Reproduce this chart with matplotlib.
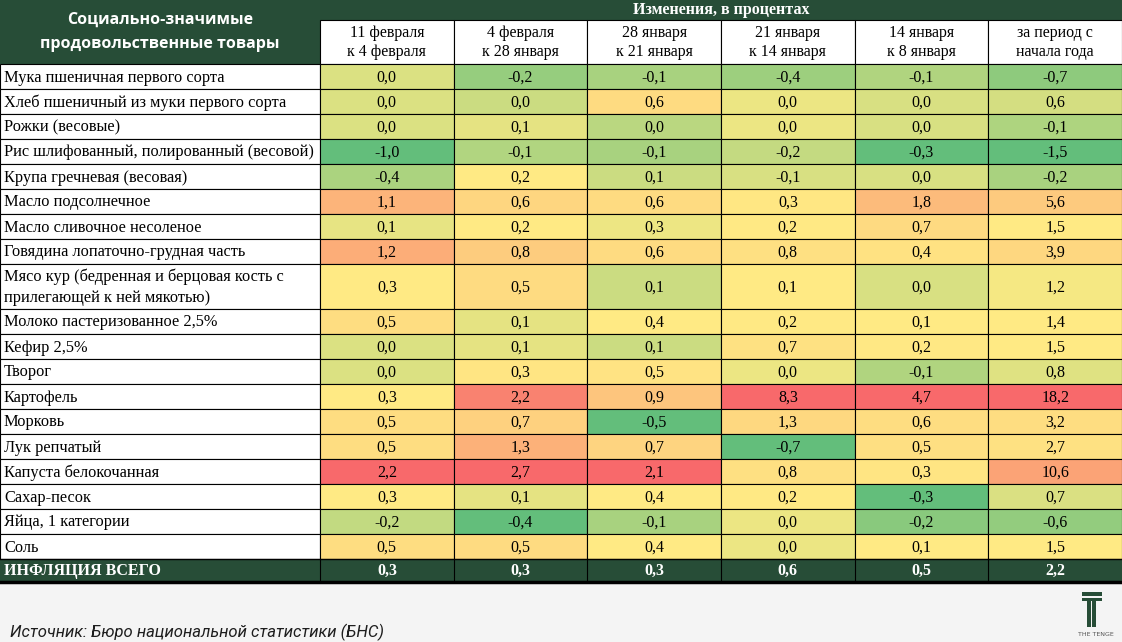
import numpy as np
import matplotlib
matplotlib.use("Agg")
import matplotlib.pyplot as plt
from matplotlib.colors import LinearSegmentedColormap, TwoSlopeNorm
from matplotlib.patches import Rectangle

products = [
    "Мука пшеничная первого сорта",
    "Хлеб пшеничный из муки первого сорта",
    "Рожки (весовые)",
    "Рис шлифованный, полированный (весовой)",
    "Крупа гречневая (весовая)",
    "Масло подсолнечное",
    "Масло сливочное несоленое",
    "Говядина лопаточно-грудная часть",
    "Мясо кур (бедренная и берцовая кость с\nприлегающей к ней мякотью)",
    "Молоко пастеризованное 2,5%",
    "Кефир 2,5%",
    "Творог",
    "Картофель",
    "Морковь",
    "Лук репчатый",
    "Капуста белокочанная",
    "Сахар-песок",
    "Яйца, 1 категории",
    "Соль",
]
periods = [
    "11 февраля\nк 4 февраля",
    "4 февраля\nк 28 января",
    "28 января\nк 21 января",
    "21 января\nк 14 января",
    "14 января\nк 8 января",
    "за период с\nначала года",
]
feb11 = [0.0, 0.0, 0.0, -1.0, -0.4, 1.1, 0.1, 1.2, 0.3, 0.5, 0.0, 0.0, 0.3, 0.5, 0.5, 2.2, 0.3, -0.2, 0.5]
feb04 = [-0.2, 0.0, 0.1, -0.1, 0.2, 0.6, 0.2, 0.8, 0.5, 0.1, 0.1, 0.3, 2.2, 0.7, 1.3, 2.7, 0.1, -0.4, 0.5]
jan28 = [-0.1, 0.6, 0.0, -0.1, 0.1, 0.6, 0.3, 0.6, 0.1, 0.4, 0.1, 0.5, 0.9, -0.5, 0.7, 2.1, 0.4, -0.1, 0.4]
jan21 = [-0.4, 0.0, 0.0, -0.2, -0.1, 0.3, 0.2, 0.8, 0.1, 0.2, 0.7, 0.0, 8.3, 1.3, -0.7, 0.8, 0.2, 0.0, 0.0]
jan14 = [-0.1, 0.0, 0.0, -0.3, 0.0, 1.8, 0.7, 0.4, 0.0, 0.1, 0.2, -0.1, 4.7, 0.6, 0.5, 0.3, -0.3, -0.2, 0.1]
ytd = [-0.7, 0.6, -0.1, -1.5, -0.2, 5.6, 1.5, 3.9, 1.2, 1.4, 1.5, 0.8, 18.2, 3.2, 2.7, 10.6, 0.7, -0.6, 1.5]
inflation = [0.3, 0.3, 0.3, 0.6, 0.5, 2.2]

columns = [feb11, feb04, jan28, jan21, jan14, ytd]

GREEN_DARK = "#274d37"
BG = "#f4f4f4"
cmap = LinearSegmentedColormap.from_list("excel3", ["#63be7b", "#ffeb84", "#f8696b"])

# layout in pixels
W, H = 1122, 642
label_w = 320
col_w = (W - label_w) / len(periods)
top_h = 19
head_h = 64
row_h = 25
tall_h = 45
total_h = 22

fig = plt.figure(figsize=(W / 100, H / 100), dpi=100)
fig.patch.set_facecolor(BG)
ax = fig.add_axes([0, 0, 1, 1])
ax.set_xlim(0, W)
ax.set_ylim(H, 0)
ax.axis("off")

serif = "Liberation Serif"

def fmt(v):
    return f"{v:.1f}".replace(".", ",")

# header
ax.add_patch(Rectangle((0, 0), W, head_h, facecolor=GREEN_DARK, edgecolor="none"))
ax.text(label_w / 2, head_h / 2, "Социально-значимые\nпродовольственные товары",
        ha="center", va="center", color="white", fontsize=11.5, fontweight="bold",
        family="Open Sans", linespacing=1.75)
ax.text(label_w + (W - label_w) / 2, top_h / 2 + 1, "Изменения, в процентах",
        ha="center", va="center", color="white", fontsize=11.5, fontweight="bold", family=serif)
for j, p in enumerate(periods):
    x0 = label_w + j * col_w
    ax.add_patch(Rectangle((x0, top_h + 1), col_w, head_h - top_h - 1,
                           facecolor="white", edgecolor="black", lw=0.8))
    ax.text(x0 + col_w / 2, (top_h + head_h) / 2 + 1, p, ha="center", va="center",
            fontsize=11.5, family=serif, linespacing=1.3)

# body rows
heights = [tall_h if "\n" in name else row_h for name in products]
y = head_h
for i, name in enumerate(products):
    h = heights[i]
    ax.add_patch(Rectangle((0, y), label_w, h, facecolor="white", edgecolor="black", lw=0.8))
    ax.text(4, y + h / 2 + 1, name, ha="left", va="center", fontsize=11.8,
            family=serif, linespacing=1.45)
    for j, vals in enumerate(columns):
        norm = TwoSlopeNorm(vmin=min(vals), vcenter=float(np.median(vals)), vmax=max(vals))
        x0 = label_w + j * col_w
        ax.add_patch(Rectangle((x0, y), col_w, h, facecolor=cmap(norm(vals[i])),
                               edgecolor="black", lw=0.8))
        ax.text(x0 + col_w / 2, y + h / 2 + 1, fmt(vals[i]), ha="center", va="center",
                fontsize=11.5, family=serif)
    y += h

# total row
ax.add_patch(Rectangle((0, y), W, total_h, facecolor=GREEN_DARK, edgecolor="none"))
ax.text(4, y + total_h / 2 + 1, "ИНФЛЯЦИЯ ВСЕГО", ha="left", va="center", color="white",
        fontsize=11.5, fontweight="bold", family=serif)
for j, v in enumerate(inflation):
    x0 = label_w + j * col_w
    ax.plot([x0, x0], [y, y + total_h], color="black", lw=0.8)
    ax.text(x0 + col_w / 2, y + total_h / 2 + 1, fmt(v), ha="center", va="center",
            color="white", fontsize=11.5, fontweight="bold", family=serif)
ax.plot([0, W], [y, y], color="black", lw=1)
ax.plot([0, W], [y + total_h + 1, y + total_h + 1], color="black", lw=2.5)

# source
ax.text(10, 632, "Источник: Бюро национальной статистики (БНС)", ha="left", va="center",
        fontsize=12, style="italic", color="#1e1e1e", family="Roboto")

# logo
ax.add_patch(Rectangle((1082, 592), 20, 4, facecolor=GREEN_DARK, edgecolor="none"))
ax.add_patch(Rectangle((1082, 597.5), 20, 3.5, facecolor=GREEN_DARK, edgecolor="none"))
ax.add_patch(Rectangle((1087.5, 601), 4, 26, facecolor=GREEN_DARK, edgecolor="none"))
ax.add_patch(Rectangle((1092.5, 601), 4, 26, facecolor=GREEN_DARK, edgecolor="none"))
ax.text(1096, 634, "THE TENGE", ha="center", va="center", fontsize=4.5, color="#555555")

fig.savefig("out.png", dpi=100, facecolor=BG)
